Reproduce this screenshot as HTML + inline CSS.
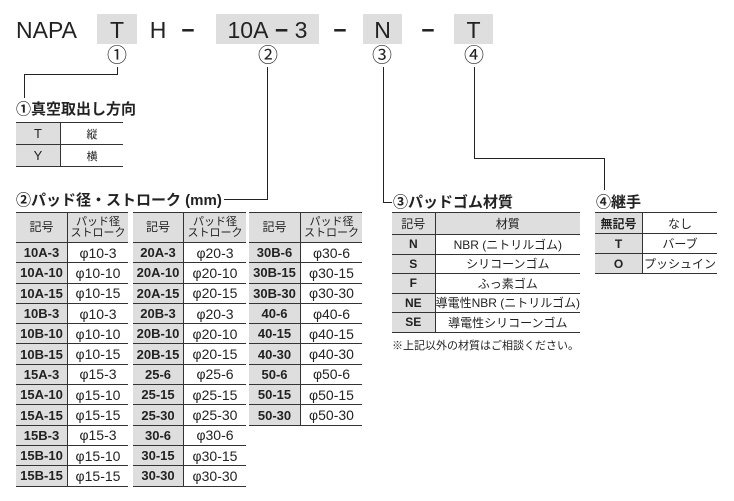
<!DOCTYPE html>
<html><head><meta charset="utf-8"><style>
body{margin:0;width:734px;height:501px;background:#fff;position:relative;overflow:hidden;font-family:"Liberation Sans","Noto Sans CJK JP",sans-serif;color:#222}
.a{position:absolute}
.box{position:absolute;background:#dedede;top:14px;height:30px}
.big{position:absolute;top:14px;height:30px;line-height:32px;font-size:23px;text-align:center}
.c{position:absolute;font-size:20px;top:44px;width:24px;text-align:center;line-height:24px}
.l{position:absolute;background:#222}
.t{font-weight:bold;font-size:15px;position:absolute;white-space:nowrap}
table{position:absolute;border-collapse:collapse;font-size:13px}
td{border-top:1px solid #333;border-bottom:1px solid #333;padding:0;text-align:center;white-space:nowrap}
td.k{background:#dedede;border-right:1px solid #333;font-weight:bold}
tr.h td{background:#dedede;font-weight:normal}
.tb td{height:19.3px;font-size:14px}
.tb td.k{font-size:13px}
.tb tr.h td{height:29px;font-size:11px;line-height:11px}
.tb tr.h td.k{font-size:12px}
</style></head><body>
<div class="big" style="left:16px;width:46px">NAPA</div>
<div class="box" style="left:97px;width:40px"></div><div class="big" style="left:97px;width:40px">T</div>
<div class="big" style="left:148px;width:20px">H</div>
<div class="big" style="left:178px;width:20px;font-weight:bold">−</div>
<div class="box" style="left:216px;width:103px"></div><div class="big" style="left:216px;width:103px">10A<b> − </b>3</div>
<div class="big" style="left:330px;width:20px;font-weight:bold">−</div>
<div class="box" style="left:363px;width:39px"></div><div class="big" style="left:363px;width:39px">N</div>
<div class="big" style="left:418px;width:20px;font-weight:bold">−</div>
<div class="box" style="left:454px;width:39px"></div><div class="big" style="left:454px;width:39px">T</div>
<div class="c" style="left:105px">①</div><div class="c" style="left:256px">②</div><div class="c" style="left:370px">③</div><div class="c" style="left:462px">④</div>
<div class="l" style="left:117px;top:67px;width:1px;height:8px"></div>
<div class="l" style="left:24px;top:74px;width:94px;height:1px"></div>
<div class="l" style="left:24px;top:74px;width:1px;height:24px"></div>
<div class="l" style="left:267px;top:67px;width:1px;height:133px"></div>
<div class="l" style="left:224px;top:199px;width:44px;height:1px"></div>
<div class="l" style="left:383px;top:67px;width:1px;height:136px"></div>
<div class="l" style="left:383px;top:202px;width:9px;height:1px"></div>
<div class="l" style="left:474px;top:67px;width:1px;height:92px"></div>
<div class="l" style="left:474px;top:158px;width:131px;height:1px"></div>
<div class="l" style="left:604px;top:158px;width:1px;height:32px"></div>
<div class="t" style="left:16px;top:98px">①真空取出し方向</div>
<table style="left:16px;top:122px;width:107px"><tr><td class="k" style="width:44px;height:21px;font-weight:normal">T</td><td style="font-size:11px">縦</td></tr><tr><td class="k" style="height:21px;font-weight:normal">Y</td><td style="font-size:11px">横</td></tr></table>
<div class="t" style="left:16px;top:189px">②パッド径・ストローク (mm)</div>
<table class="tb" style="left:16px;top:212px;width:112px"><tr class="h"><td class="k" style="width:51px">記号</td><td>パッド径<br>ストローク</td></tr>
<tr><td class="k">10A-3</td><td>φ10-3</td></tr><tr><td class="k">10A-10</td><td>φ10-10</td></tr><tr><td class="k">10A-15</td><td>φ10-15</td></tr><tr><td class="k">10B-3</td><td>φ10-3</td></tr><tr><td class="k">10B-10</td><td>φ10-10</td></tr><tr><td class="k">10B-15</td><td>φ10-15</td></tr><tr><td class="k">15A-3</td><td>φ15-3</td></tr><tr><td class="k">15A-10</td><td>φ15-10</td></tr><tr><td class="k">15A-15</td><td>φ15-15</td></tr><tr><td class="k">15B-3</td><td>φ15-3</td></tr><tr><td class="k">15B-10</td><td>φ15-10</td></tr><tr><td class="k">15B-15</td><td>φ15-15</td></tr></table>
<table class="tb" style="left:133px;top:212px;width:113px"><tr class="h"><td class="k" style="width:50px">記号</td><td>パッド径<br>ストローク</td></tr>
<tr><td class="k">20A-3</td><td>φ20-3</td></tr><tr><td class="k">20A-10</td><td>φ20-10</td></tr><tr><td class="k">20A-15</td><td>φ20-15</td></tr><tr><td class="k">20B-3</td><td>φ20-3</td></tr><tr><td class="k">20B-10</td><td>φ20-10</td></tr><tr><td class="k">20B-15</td><td>φ20-15</td></tr><tr><td class="k">25-6</td><td>φ25-6</td></tr><tr><td class="k">25-15</td><td>φ25-15</td></tr><tr><td class="k">25-30</td><td>φ25-30</td></tr><tr><td class="k">30-6</td><td>φ30-6</td></tr><tr><td class="k">30-15</td><td>φ30-15</td></tr><tr><td class="k">30-30</td><td>φ30-30</td></tr></table>
<table class="tb" style="left:249px;top:212px;width:113px"><tr class="h"><td class="k" style="width:51px">記号</td><td>パッド径<br>ストローク</td></tr>
<tr><td class="k">30B-6</td><td>φ30-6</td></tr><tr><td class="k">30B-15</td><td>φ30-15</td></tr><tr><td class="k">30B-30</td><td>φ30-30</td></tr><tr><td class="k">40-6</td><td>φ40-6</td></tr><tr><td class="k">40-15</td><td>φ40-15</td></tr><tr><td class="k">40-30</td><td>φ40-30</td></tr><tr><td class="k">50-6</td><td>φ50-6</td></tr><tr><td class="k">50-15</td><td>φ50-15</td></tr><tr><td class="k">50-30</td><td>φ50-30</td></tr></table>
<div class="t" style="left:393px;top:191px">③パッドゴム材質</div>
<table style="left:392px;top:212px;width:188px;font-size:12px"><tr class="h"><td class="k" style="width:46px;height:21px;font-weight:normal">記号</td><td>材質</td></tr>
<tr><td class="k" style="height:18.5px">N</td><td>NBR (ニトリルゴム)</td></tr><tr><td class="k" style="height:18.5px">S</td><td>シリコーンゴム</td></tr><tr><td class="k" style="height:18.5px">F</td><td>ふっ素ゴム</td></tr><tr><td class="k" style="height:18.5px">NE</td><td>導電性NBR (ニトリルゴム)</td></tr><tr><td class="k" style="height:18.5px">SE</td><td>導電性シリコーンゴム</td></tr></table>
<div class="a" style="left:392px;top:337px;font-size:11px">※上記以外の材質はご相談ください。</div>
<div class="t" style="left:596px;top:191px">④継手</div>
<table style="left:595px;top:212px;width:122px;font-size:12px"><tr><td class="k" style="width:47px;height:20px">無記号</td><td>なし</td></tr><tr><td class="k" style="height:19px">T</td><td>バーブ</td></tr><tr><td class="k" style="height:19px">O</td><td>プッシュイン</td></tr></table>
</body></html>
